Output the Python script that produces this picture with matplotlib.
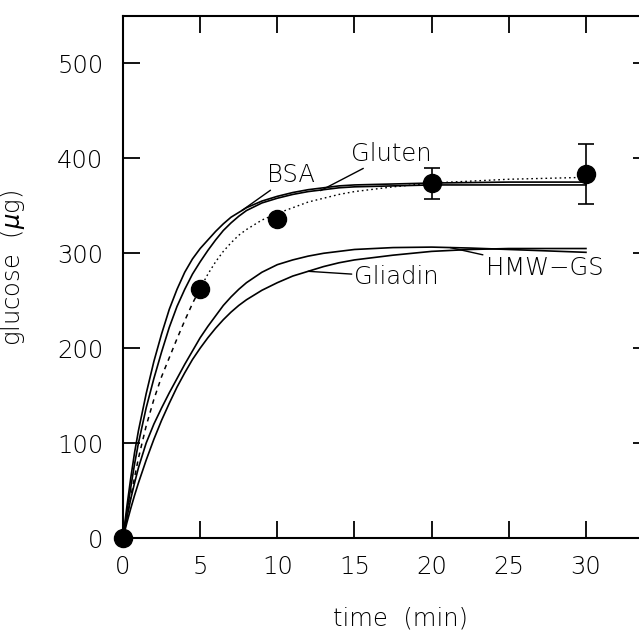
import matplotlib.pyplot as plt

# sampled times (min) for the model curves
t_curve = [0, 0.25, 0.5, 0.75, 1, 1.5, 2, 2.5, 3, 3.5, 4, 4.5, 5, 5.5, 6, 6.5, 7, 7.5, 8,
           9, 10, 11, 12, 13, 14, 15, 17.5, 20, 22.5, 25, 27.5, 30]

bsa = [0, 33, 63, 90, 113, 152, 186, 215, 241, 262, 280, 294, 305, 314, 323, 331, 338, 343, 348,
       355, 360, 364, 367, 369, 371, 372, 373, 374, 374.5, 375, 375, 375]
gluten = [0, 27, 53, 78, 100, 137, 168, 196, 222, 244, 262, 278, 291, 303, 314, 324, 332, 339, 345,
          353, 358, 362, 365, 367, 369, 370, 371, 372, 372, 372, 372, 372]
fit = [0, 22, 43, 64, 84, 118, 146, 170, 190, 210, 229, 247, 263, 278, 291, 302, 311, 319, 325,
       335, 342, 348, 354, 358, 362, 365, 370, 374, 376, 378, 379, 380]
hmw_gs = [0, 21, 41, 58, 74, 100, 120, 137, 153, 168, 183, 197, 211, 223, 234, 245, 254, 262, 269,
          280, 288, 293, 297, 300, 302, 304, 306, 306.5, 305.5, 304, 302.5, 301]
gliadin = [0, 16, 31, 45, 58, 82, 104, 124, 142, 159, 174, 188, 200, 211, 221, 230, 238, 245, 251,
           261, 269, 276, 281, 286, 290, 293, 298, 302, 304, 305, 305, 305]

# measured glucose release
t_data = [0, 5, 10, 20, 30]
glucose = [0, 262, 336, 374, 384]
err_lo = [0, 0, 0, 17, 32]
err_hi = [0, 0, 0, 16, 31]

plt.rcParams['font.family'] = 'DejaVu Sans'
plt.rcParams['font.weight'] = 'light'
plt.rcParams['axes.labelweight'] = 'light'
plt.rcParams['font.size'] = 17.5

fig = plt.figure(figsize=(6.39, 6.31), dpi=100)
ax = fig.add_axes([123 / 639, 1 - 538 / 631, 527 / 639, 522 / 631])

lw = 1.2
ax.plot(t_curve, bsa, color='black', lw=lw)
ax.plot(t_curve, gluten, color='black', lw=lw)
ax.plot(t_curve, hmw_gs, color='black', lw=lw)
ax.plot(t_curve, gliadin, color='black', lw=lw)

# fit: dashed at the start, dotted afterwards
k = t_curve.index(5)
ax.plot(t_curve[:k + 1], fit[:k + 1], color='black', lw=1.1, ls=(0, (3, 3)))
ax.plot(t_curve[k:], fit[k:], color='black', lw=1.0, ls=(0, (1.2, 2.2)))

ax.errorbar(t_data, glucose, yerr=[err_lo, err_hi], fmt='o', color='black',
            ms=13, capsize=6, elinewidth=1.2, capthick=1.2, clip_on=False, zorder=5)

lab = dict(fontsize=17.5, va='center', ha='left',
           arrowprops=dict(arrowstyle='-', lw=1.0, color='black', shrinkA=0, shrinkB=0))
ax.annotate('BSA', xy=(7.7, 345), xytext=(9.35, 382), **lab)
ax.annotate('Gluten', xy=(12.8, 366), xytext=(14.8, 405), **lab)
ax.annotate('Gliadin', xy=(12.0, 281), xytext=(15.0, 275), **lab)
ax.annotate('HMW\u2212GS', xy=(21.2, 306), xytext=(23.5, 284), **lab)

ax.set_xlim(0, 34.15)
ax.set_ylim(0, 550)
ax.set_xticks([0, 5, 10, 15, 20, 25, 30])
ax.set_yticks([0, 100, 200, 300, 400, 500])

for s in ['left', 'bottom', 'top']:
    ax.spines[s].set_linewidth(1.5)
ax.spines['right'].set_visible(False)

ax.tick_params(direction='in', length=12, width=1.3, top=True, right=True,
               labeltop=False, labelright=False, pad=12)
ax.tick_params(axis='y', pad=14)

ax.set_xlabel('time  (min)')
ax.set_ylabel('glucose  ($\\mu$g)')
ax.xaxis.set_label_coords(0.5275, -0.132)
ax.yaxis.set_label_coords(-0.182, 0.517)

fig.savefig('out.png', dpi=100)
